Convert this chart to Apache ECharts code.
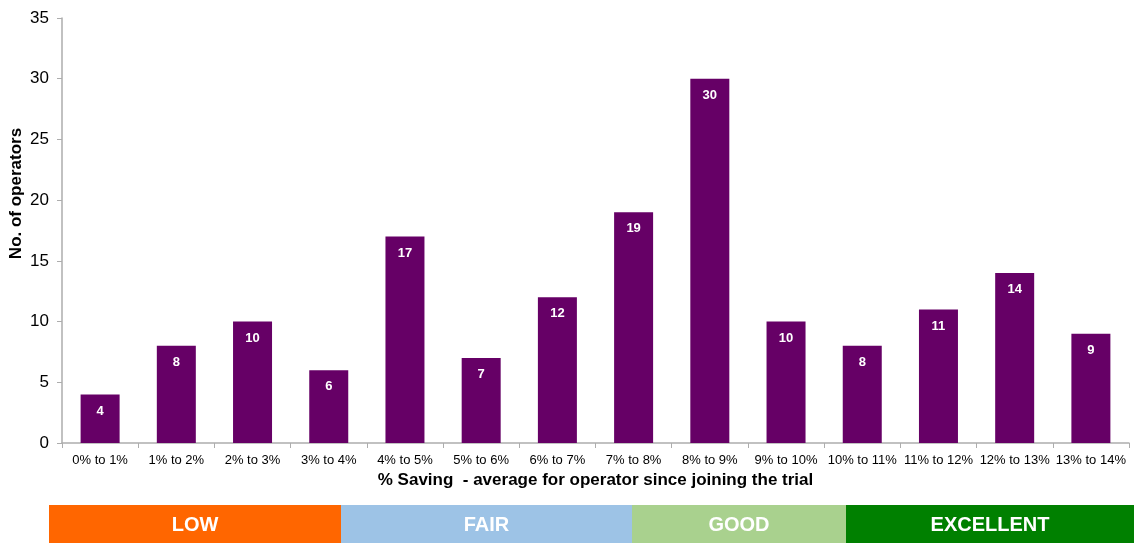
<!DOCTYPE html>
<html>
<head>
<meta charset="utf-8">
<script src="https://cdn.jsdelivr.net/npm/echarts@6/dist/echarts.min.js"></script>
<style>
  html, body { margin: 0; padding: 0; background: #ffffff; }
  #chart { width: 1134px; height: 543px; }
</style>
</head>
<body>
<div id="chart"></div>
<script>
// Savings bands (percentage ranges) and how many operators fall in each
const categories = ['0% to 1%', '1% to 2%', '2% to 3%', '3% to 4%', '4% to 5%', '5% to 6%', '6% to 7%',
  '7% to 8%', '8% to 9%', '9% to 10%', '10% to 11%', '11% to 12%', '12% to 13%', '13% to 14%'];
const operators = [4, 8, 10, 6, 17, 7, 12, 19, 30, 10, 8, 11, 14, 9];

// Rating strip shown beneath the chart
const ratingNames = ['LOW', 'FAIR', 'GOOD', 'EXCELLENT'];

const FONT = '"Liberation Sans", Arial, Helvetica, sans-serif';
const ratingStyle = {
  LOW:       { fill: '#FF6600', x: 49,  w: 292 },
  FAIR:      { fill: '#9DC3E6', x: 341, w: 291 },
  GOOD:      { fill: '#A9D18E', x: 632, w: 214 },
  EXCELLENT: { fill: '#008000', x: 846, w: 288 }
};

const strip = [];
ratingNames.forEach(function (name) {
  const s = ratingStyle[name];
  strip.push({
    type: 'rect',
    left: s.x, top: 505,
    shape: { width: s.w, height: 38 },
    style: { fill: s.fill },
    silent: true
  });
  strip.push({
    type: 'text',
    x: s.x + s.w / 2, y: 525,
    style: {
      text: name, fill: '#ffffff', font: 'bold 20px ' + FONT,
      textAlign: 'center', textVerticalAlign: 'middle'
    },
    silent: true
  });
});

const chart = echarts.init(document.getElementById('chart'), null, { renderer: 'canvas' });
chart.setOption({
  animation: false,
  backgroundColor: '#ffffff',
  textStyle: { fontFamily: FONT },
  grid: { left: 62, right: 5, top: 18, bottom: 100, containLabel: false, outerBoundsMode: 'none' },
  xAxis: {
    type: 'category',
    data: categories,
    name: '% Saving  - average for operator since joining the trial',
    nameLocation: 'middle',
    nameGap: 29,
    nameMoveOverlap: false,
    nameTextStyle: { fontFamily: FONT, fontSize: 17, fontWeight: 'bold', color: '#000000' },
    axisLine: { lineStyle: { color: '#ADADAD', width: 1.5 } },
    axisTick: { show: true, alignWithLabel: false, length: 5, lineStyle: { color: '#ADADAD' } },
    axisLabel: { fontFamily: FONT, fontSize: 13, color: '#000000', margin: 11, interval: 0 }
  },
  yAxis: {
    type: 'value',
    min: 0, max: 35, interval: 5,
    name: 'No. of operators',
    nameLocation: 'middle',
    nameGap: 37,
    nameMoveOverlap: false,
    nameTextStyle: { fontFamily: FONT, fontSize: 17, fontWeight: 'bold', color: '#000000', padding: [0, 0, 0, 74] },
    axisLine: { show: true, lineStyle: { color: '#ADADAD', width: 1.5 } },
    axisTick: { show: true, length: 5, lineStyle: { color: '#ADADAD' } },
    axisLabel: { fontFamily: FONT, fontSize: 17, color: '#000000', margin: 13 },
    splitLine: { show: false }
  },
  series: [{
    type: 'bar',
    data: operators,
    barWidth: 39,
    itemStyle: { color: '#660066' },
    label: {
      show: true,
      position: 'insideTop',
      distance: 10,
      color: '#ffffff',
      fontFamily: FONT,
      fontSize: 13,
      fontWeight: 'bold'
    }
  }],
  graphic: strip
});
</script>
</body>
</html>
